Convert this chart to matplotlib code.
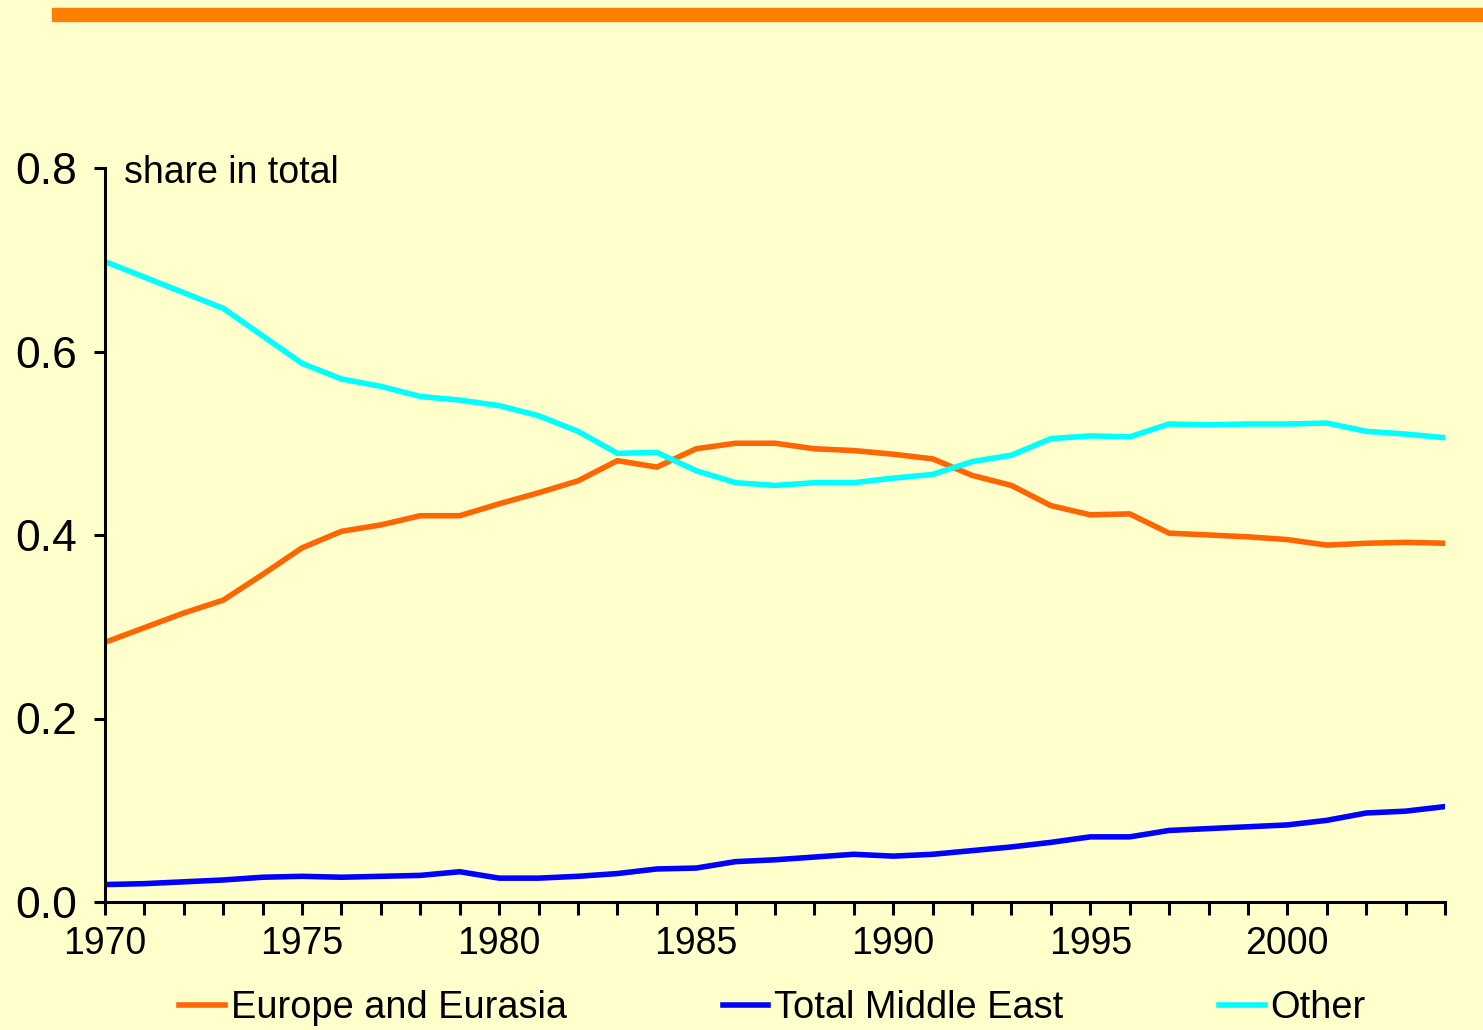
import numpy as np
import matplotlib
matplotlib.use('Agg')
import matplotlib.pyplot as plt
from matplotlib.patches import Rectangle

years = list(range(1970, 2005))

europe = [0.283, 0.299, 0.315, 0.329, 0.357, 0.386, 0.404, 0.411, 0.421, 0.421,
          0.434, 0.446, 0.459, 0.481, 0.474, 0.494, 0.500, 0.500, 0.494, 0.492,
          0.488, 0.483, 0.465, 0.454, 0.432, 0.422, 0.423, 0.402, 0.400, 0.398,
          0.395, 0.389, 0.391, 0.392, 0.391]

middle_east = [0.019, 0.020, 0.022, 0.024, 0.027, 0.028, 0.027, 0.028, 0.029, 0.033,
               0.026, 0.026, 0.028, 0.031, 0.036, 0.037, 0.044, 0.046, 0.049, 0.052,
               0.050, 0.052, 0.056, 0.060, 0.065, 0.071, 0.071, 0.078, 0.080, 0.082,
               0.084, 0.089, 0.097, 0.099, 0.104]

other = [0.698, 0.681, 0.664, 0.647, 0.617, 0.587, 0.570, 0.562, 0.551, 0.547,
         0.541, 0.530, 0.513, 0.489, 0.490, 0.470, 0.457, 0.454, 0.457, 0.457,
         0.462, 0.466, 0.480, 0.487, 0.505, 0.508, 0.507, 0.521, 0.520, 0.521,
         0.521, 0.522, 0.513, 0.510, 0.506]

series_names = ['Europe and Eurasia', 'Total Middle East', 'Other']
series_colors = ['#FF6600', '#0000FF', '#00FFFF']
y_ticks = [0.0, 0.2, 0.4, 0.6, 0.8]
x_labels = [1970, 1975, 1980, 1985, 1990, 1995, 2000]

plt.rcParams['font.family'] = ['Liberation Sans', 'DejaVu Sans']

bg = '#FFFFCC'
fig = plt.figure(figsize=(14.83, 10.30), dpi=100, facecolor=bg)

# orange band across the top
fig.patches.append(Rectangle((52 / 1483, 1 - 21 / 1030), 1 - 52 / 1483, 13 / 1030,
                             transform=fig.transFigure, color='#FF8000', zorder=0))

ax = fig.add_axes([105 / 1483, 128 / 1030, 1340 / 1483, 734 / 1030])
ax.set_facecolor(bg)

for vals, name, col in zip([europe, middle_east, other], series_names, series_colors):
    ax.plot(years, vals, color=col, lw=4.0, label=name, solid_joinstyle='miter')

ax.set_xlim(1970, 2004)
ax.set_ylim(0, 0.8)

for s in ['top', 'right']:
    ax.spines[s].set_visible(False)
for s in ['left', 'bottom']:
    ax.spines[s].set_linewidth(2.2)

ax.set_yticks(y_ticks)
ax.set_yticklabels(['%.1f' % v for v in y_ticks])
ax.set_xticks(years, minor=True)
ax.set_xticks(x_labels)
ax.set_xticklabels([str(v) for v in x_labels])

ax.tick_params(axis='y', direction='out', length=8, width=2.2, labelsize=32, pad=12)
ax.tick_params(axis='x', which='both', direction='out', length=9, width=2.2, labelsize=27, pad=8)

ax.text(0.014, 0.993, 'share in total', transform=ax.transAxes,
        fontsize=27, ha='left', va='center')

fig.legend(loc='center', bbox_to_anchor=(0.521, 1 - 1008 / 1030), ncol=3,
           frameon=False, fontsize=27.4, handlelength=1.2, handletextpad=0.15,
           columnspacing=4.1, borderaxespad=0)

fig.savefig('out.png', dpi=100, facecolor=bg)
